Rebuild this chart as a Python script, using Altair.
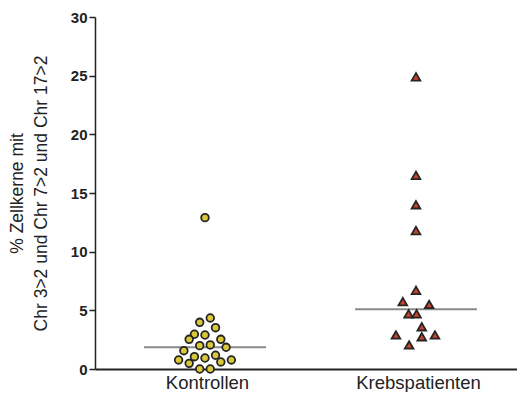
import altair as alt
import pandas as pd

groups = ["Kontrollen", "Krebspatienten"]

# Kontrollen (circles): value in %, slot = horizontal beeswarm slot
ktr_values = [12.9, 3.98, 4.35, 3.52, 2.96, 2.9, 2.53, 2.53, 1.56, 1.99, 2.05,
              1.85, 0.77, 0.48, 1.05, 0.94, 1.17, 0.6, 0.77, 0.0, 0.0]
ktr_slots = [0, -1, 1, 2, -2, 0, -3, 3, -4, -1, 1,
             4, -5, -3, -2, 0, 2, 3, 5, -1, 1]

# Krebspatienten (triangles)
krebs_values = [24.9, 16.5, 14.0, 11.8, 6.7, 5.74, 5.5, 4.7, 4.7, 3.6, 2.9,
                2.75, 2.9, 2.05]
krebs_slots = [0, 0, 0, 0, 0, -2.5, 2.5, -1.4, 0.1, 1.1, -3.8,
               1.1, 3.6, -1.3]

y_ticks = [0, 5, 10, 15, 20, 25, 30]

df = pd.concat([
    pd.DataFrame({"Gruppe": groups[0], "Wert": ktr_values, "slot": ktr_slots}),
    pd.DataFrame({"Gruppe": groups[1], "Wert": krebs_values, "slot": krebs_slots}),
], ignore_index=True)

FONT = "Liberation Sans"

x_enc = alt.X(
    "Gruppe:N",
    sort=groups,
    scale=alt.Scale(domain=groups, paddingInner=0, paddingOuter=0),
    axis=alt.Axis(title=None, labelAngle=0, ticks=False, labelFontSize=18.5,
                  labelFont=FONT, labelColor="#222", labelPadding=4,
                  labelOffset=7, domainWidth=2, domainColor="#222"),
)
y_enc = alt.Y(
    "Wert:Q",
    scale=alt.Scale(domain=[0, 30], nice=False, zero=True),
    axis=alt.Axis(
        values=y_ticks, grid=False, tickSize=6, tickWidth=1.5, tickColor="#222",
        domainWidth=1.5, domainColor="#222",
        labelFont=FONT, labelFontSize=15, labelFontWeight="bold", labelColor="#222",
        labelPadding=2,
        title=["% Zellkerne mit", "Chr 3>2 und Chr 7>2 und Chr 17>2"],
        titleFont=FONT, titleFontSize=17.5, titleFontWeight="normal",
        titleColor="#222", titleLineHeight=24, titlePadding=20,
    ),
)

base = alt.Chart(df)

medians = base.mark_tick(size=122, thickness=2, color="#8a8a8a", xOffset=4.5).encode(
    x=x_enc,
    y=alt.Y("median(Wert):Q"),
)

points = base.mark_point(filled=True, strokeWidth=1.8, stroke="#252525",
                         opacity=1, clip=False).encode(
    x=x_enc,
    y=y_enc,
    xOffset=alt.XOffset("slot:Q", scale=alt.Scale(domain=[-20.85, 19.15])),
    shape=alt.Shape("Gruppe:N", scale=alt.Scale(domain=groups,
                    range=["circle", "triangle-up"]), legend=None),
    fill=alt.Fill("Gruppe:N", scale=alt.Scale(domain=groups,
                  range=["#d9c83a", "#c9452a"]), legend=None),
    size=alt.Size("Gruppe:N", scale=alt.Scale(domain=groups, range=[58, 75]),
                  legend=None),
)

chart = alt.layer(medians, points).properties(
    width=422, height=352,
    padding={"left": 0, "top": 2, "right": 0, "bottom": 0},
).configure_view(stroke=None)

chart.save("out.html", embed_options={"renderer": "svg", "actions": False})
